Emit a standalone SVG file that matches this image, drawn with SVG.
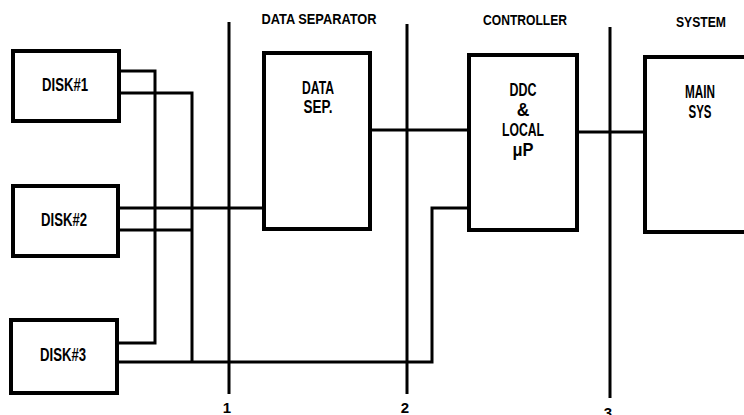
<svg xmlns="http://www.w3.org/2000/svg" width="744" height="415" viewBox="0 0 744 415">
<style>
.box{fill:#fff;stroke:#000;stroke-width:4}
.ln{fill:none;stroke:#000;stroke-width:3}
text{font-family:"Liberation Sans",Arial,sans-serif;font-weight:bold;fill:#000;text-anchor:middle}
.big{font-size:17.5px}
.mid{font-size:15px}
</style>
<rect width="744" height="415" fill="#fff"/>
<g id="connectors">
<path class="ln" d="M229,22 V394"/>
<path class="ln" d="M407,24 V394"/>
<path class="ln" d="M610,27 V398"/>
<path class="ln" d="M119,71 H155 V343 H117"/>
<path class="ln" d="M119,93 H192 V362"/>
<path class="ln" d="M118,230 H192"/>
<path class="ln" d="M118,208 H264"/>
<path class="ln" d="M117,362 H432 V208 H469"/>
<path class="ln" d="M370,130 H469"/>
<path class="ln" d="M577,132 H645"/>
</g>
<g id="labels">
<text class="mid" x="319" y="24" textLength="115" lengthAdjust="spacingAndGlyphs">DATA SEPARATOR</text>
<text class="mid" x="525" y="25" textLength="84" lengthAdjust="spacingAndGlyphs">CONTROLLER</text>
<text class="mid" x="701" y="27" textLength="50" lengthAdjust="spacingAndGlyphs">SYSTEM</text>
<text class="mid" x="227" y="413">1</text>
<text class="mid" x="405" y="413">2</text>
<text class="mid" x="608" y="418">3</text>
</g>
<g id="disk1">
<rect class="box" x="13" y="51" width="106" height="70"/>
<text class="big" x="65" y="91" textLength="46" lengthAdjust="spacingAndGlyphs">DISK#1</text>
</g>
<g id="disk2">
<rect class="box" x="13" y="186" width="105" height="70"/>
<text class="big" x="64" y="226" textLength="46" lengthAdjust="spacingAndGlyphs">DISK#2</text>
</g>
<g id="disk3">
<rect class="box" x="11" y="320" width="106" height="73"/>
<text class="big" x="63" y="361" textLength="46" lengthAdjust="spacingAndGlyphs">DISK#3</text>
</g>
<g id="datasep">
<rect class="box" x="264" y="53" width="106" height="176"/>
<text class="big" x="318" y="94" textLength="32" lengthAdjust="spacingAndGlyphs">DATA</text>
<text class="big" x="318" y="113" textLength="29" lengthAdjust="spacingAndGlyphs">SEP.</text>
</g>
<g id="controller">
<rect class="box" x="469" y="55" width="108" height="175"/>
<text class="big" x="523" y="96" textLength="27" lengthAdjust="spacingAndGlyphs">DDC</text>
<text class="big" x="523" y="116">&amp;</text>
<text class="big" x="523" y="136" textLength="42" lengthAdjust="spacingAndGlyphs">LOCAL</text>
<text class="big" x="523" y="156" textLength="21" lengthAdjust="spacingAndGlyphs">μP</text>
</g>
<g id="mainsys">
<rect class="box" x="645" y="57" width="110" height="175"/>
<text class="big" x="700" y="98" textLength="30" lengthAdjust="spacingAndGlyphs">MAIN</text>
<text class="big" x="700" y="118" textLength="23" lengthAdjust="spacingAndGlyphs">SYS</text>
</g>
</svg>
